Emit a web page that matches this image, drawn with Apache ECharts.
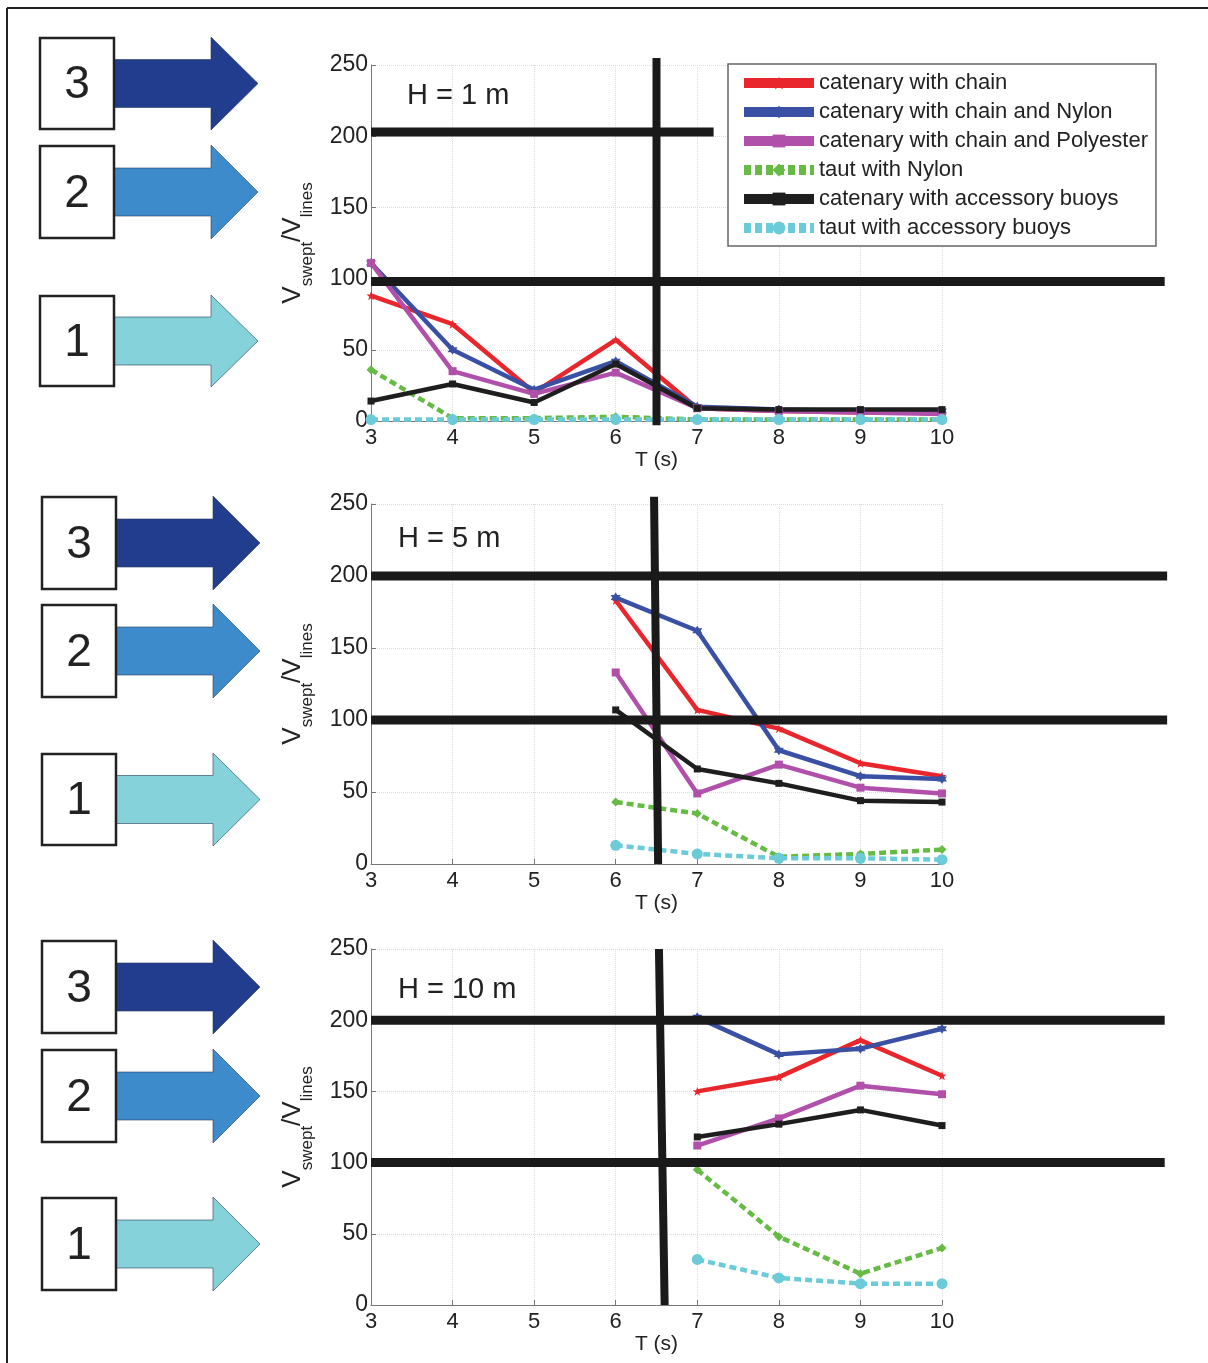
<!DOCTYPE html>
<html><head><meta charset="utf-8">
<script src="https://cdn.jsdelivr.net/npm/echarts@6/dist/echarts.min.js"></script>
<style>html,body{margin:0;padding:0;background:#fff}#c{width:1208px;height:1363px}</style>
</head><body><div id="c"></div>
<script>
// ---------- DATA ----------
const periodsAll = [3, 4, 5, 6, 7, 8, 9, 10];
const periodsH5 = [6, 7, 8, 9, 10];
const periodsH10 = [7, 8, 9, 10];
const seriesNames = ['catenary with chain', 'catenary with chain and Nylon', 'catenary with chain and Polyester', 'taut with Nylon', 'catenary with accessory buoys', 'taut with accessory buoys'];
const panelTitles = ['H = 1 m', 'H = 5 m', 'H = 10 m'];
const yTicks = [0, 50, 100, 150, 200, 250];
const xTicks = [3, 4, 5, 6, 7, 8, 9, 10];

// H = 1 m
const h1Chain = [88, 68, 20, 57, 9, 7, 6, 6];
const h1Nylon = [111, 50, 22, 42, 10, 8, 7, 7];
const h1Poly = [111, 35, 19, 34, 9, 7, 6, 5];
const h1Taut = [36, 2, 2, 3, 1, 1, 1, 1];
const h1Buoy = [14, 26, 13, 40, 9, 8, 8, 8];
const h1TautBuoy = [1, 1, 1, 1, 1, 1, 1, 1];
// H = 5 m
const h5Chain = [183, 107, 94, 70, 61];
const h5Nylon = [185, 162, 79, 61, 59];
const h5Poly = [133, 49, 69, 53, 49];
const h5Taut = [43, 35, 5, 7, 10];
const h5Buoy = [107, 66, 56, 44, 43];
const h5TautBuoy = [13, 7, 4, 4, 3];
// H = 10 m
const h10Chain = [150, 160, 186, 161];
const h10Nylon = [202, 176, 180, 194];
const h10Poly = [112, 131, 154, 148];
const h10Taut = [95, 48, 22, 40];
const h10Buoy = [118, 127, 137, 126];
const h10TautBuoy = [32, 19, 15, 15];

// Overlay threshold lines (data units): [xStart, xEnd, y]
const h1Thresholds = [[3, 7.2, 203], [3, 12.73, 98]];
const h5Thresholds = [[3, 12.76, 200], [3, 12.76, 100]];
const h10Thresholds = [[3, 12.73, 200], [3, 12.73, 100]];
// Overlay vertical separators: [[x1, y1], [x2, y2]]
const h1Separator = [[6.5, 255], [6.5, -3]];
const h5Separator = [[6.47, 255], [6.52, 0]];
const h10Separator = [[6.53, 250], [6.60, 0]];

// ---------- STYLE ----------
const colors = ['#e8262b', '#3950a4', '#b150aa', '#66bb44', '#1e1e1e', '#6ccbd9'];
const STAR5 = 'path://M0,-10L2.4,-3.2L9.5,-3.1L3.8,1.2L5.9,8.1L0,4L-5.9,8.1L-3.8,1.2L-9.5,-3.1L-2.4,-3.2Z';
const STAR6 = 'path://M0,-10L2.9,-5L8.7,-5L5.8,0L8.7,5L2.9,5L0,10L-2.9,5L-8.7,5L-5.8,0L-8.7,-5L-2.9,-5Z';
const symbols = [STAR5, STAR6, 'rect', 'diamond', 'rect', 'circle'];
const symbolSizes = [9, 10, 8, 9, 7, 11];
const dashed = [false, false, false, true, false, true];
const FONT = 'Liberation Sans, Arial, sans-serif';

const grids = [
  {left: 371, width: 571, top: 65, height: 356},
  {left: 371, width: 571, top: 504, height: 360},
  {left: 371, width: 571, top: 949, height: 356}
];

const panelData = [
  {x: periodsAll, ys: [h1Chain, h1Nylon, h1Poly, h1Taut, h1Buoy, h1TautBuoy], th: h1Thresholds, sep: h1Separator},
  {x: periodsH5, ys: [h5Chain, h5Nylon, h5Poly, h5Taut, h5Buoy, h5TautBuoy], th: h5Thresholds, sep: h5Separator},
  {x: periodsH10, ys: [h10Chain, h10Nylon, h10Poly, h10Taut, h10Buoy, h10TautBuoy], th: h10Thresholds, sep: h10Separator}
];

const xAxes = [], yAxes = [], series = [], titles = [];
panelData.forEach((p, gi) => {
  xAxes.push({
    type: 'value', gridIndex: gi, min: xTicks[0], max: xTicks[xTicks.length - 1], interval: 1,
    name: 'T (s)', nameLocation: 'middle', nameGap: 26,
    nameTextStyle: {fontFamily: FONT, fontSize: 21, color: '#222'},
    axisLine: {lineStyle: {color: '#777', width: 1}},
    axisTick: {inside: true, length: 5, lineStyle: {color: '#777'}},
    axisLabel: {fontFamily: FONT, fontSize: 22, color: '#222', margin: 6},
    splitLine: {show: true, lineStyle: {color: '#dcdcdc', type: 'dotted', width: 1}}
  });
  yAxes.push({
    type: 'value', gridIndex: gi, min: yTicks[0], max: yTicks[yTicks.length - 1], interval: 50,
    name: '{v|V}{s|swept}{v|/V}{s|lines}', nameLocation: 'middle', nameGap: 55, nameRotate: 90,
    nameTextStyle: {
      color: '#222',
      rich: {
        v: {fontFamily: FONT, fontSize: 26, color: '#222', lineHeight: 36, verticalAlign: 'top'},
        s: {fontFamily: FONT, fontSize: 17, color: '#222', lineHeight: 36, verticalAlign: 'bottom'}
      }
    },
    axisLine: {show: true, lineStyle: {color: '#777', width: 1}},
    axisTick: {show: true, inside: true, length: 5, lineStyle: {color: '#777'}},
    axisLabel: {fontFamily: FONT, fontSize: 23, color: '#222', margin: 3},
    splitLine: {show: true, lineStyle: {color: '#dcdcdc', type: 'dotted', width: 1}}
  });
  p.ys.forEach((vals, si) => {
    series.push({
      name: seriesNames[si], type: 'line', xAxisIndex: gi, yAxisIndex: gi,
      data: p.x.map((t, k) => [t, vals[k]]),
      symbol: symbols[si], symbolSize: symbolSizes[si],
      itemStyle: {color: colors[si]},
      lineStyle: {color: colors[si], width: 4.5, type: dashed[si] ? [7, 4] : 'solid'},
      z: 3, animation: false
    });
  });
});

titles.push({text: panelTitles[0], left: 402, top: 76, textStyle: {fontFamily: FONT, fontSize: 29, fontWeight: 'normal', color: '#222'}});
titles.push({text: panelTitles[1], left: 393, top: 519, textStyle: {fontFamily: FONT, fontSize: 29, fontWeight: 'normal', color: '#222'}});
titles.push({text: panelTitles[2], left: 393, top: 970, textStyle: {fontFamily: FONT, fontSize: 29, fontWeight: 'normal', color: '#222'}});

// ---------- Left-hand level boxes with arrows (decoration) ----------
const arrowColors = {3: '#223c8e', 2: '#3e8bcb', 1: '#86d2da'};
const levelBoxes = [
  // [boxLeft, boxTop, boxBottom, label]
  [40, 38, 129, 3], [40, 146, 238, 2], [40, 296, 386, 1],
  [42, 497, 589, 3], [42, 605, 697, 2], [42, 754, 845, 1],
  [42, 941, 1033, 3], [42, 1050, 1142, 2], [42, 1198, 1290, 1]
];
const graphics = [];
graphics.push({type: 'line', shape: {x1: 7, y1: 8, x2: 1208, y2: 8}, style: {stroke: '#222', lineWidth: 2}, z: 100});
graphics.push({type: 'line', shape: {x1: 7, y1: 8, x2: 7, y2: 1363}, style: {stroke: '#222', lineWidth: 2}, z: 100});
levelBoxes.forEach(([bx, by, bb, lab]) => {
  const bw = 74, cy = (by + bb) / 2, half = (bb - by) / 2 + 1, sh = 24;
  const x0 = bx + bw, xh = bx + bw + 97, xt = bx + 218;
  graphics.push({
    type: 'polygon', z: 100,
    shape: {points: [[x0, cy - sh], [xh, cy - sh], [xh, cy - half], [xt, cy], [xh, cy + half], [xh, cy + sh], [x0, cy + sh]]},
    style: {fill: arrowColors[lab], stroke: 'rgba(40,60,90,0.6)', lineWidth: 1}
  });
  graphics.push({type: 'rect', z: 101, shape: {x: bx, y: by, width: bw, height: bb - by}, style: {fill: '#fff', stroke: '#222', lineWidth: 2.5}});
  graphics.push({type: 'text', z: 102, style: {text: String(lab), x: bx + bw / 2, y: cy + 2, align: 'center', verticalAlign: 'middle', font: '46px ' + FONT, fill: '#222'}});
});

const option = {
  backgroundColor: '#fff',
  animation: false,
  title: titles,
  grid: grids,
  xAxis: xAxes,
  yAxis: yAxes,
  legend: {
    data: seriesNames, orient: 'vertical', left: 728, top: 64,
    padding: [8, 8, 7, 11], itemGap: 7, itemWidth: 70, itemHeight: 16,
    backgroundColor: '#fff', borderColor: '#666', borderWidth: 1.5, borderRadius: 0,
    textStyle: {fontFamily: FONT, fontSize: 22, color: '#222', lineHeight: 20},
    lineStyle: {width: 10}, z: 20
  },
  series: series,
  graphic: graphics
};
const chart = echarts.init(document.getElementById('c'), null, {renderer: 'canvas'});
chart.setOption(option);

// Overlay thick black threshold / separator lines, positioned through the axes' scales
const overlay = [];
panelData.forEach((p, gi) => {
  p.th.forEach((h) => {
    const a = chart.convertToPixel({gridIndex: gi}, [h[0], h[2]]);
    const b = chart.convertToPixel({gridIndex: gi}, [h[1], h[2]]);
    overlay.push({type: 'line', z: 50, silent: true, shape: {x1: a[0], y1: a[1], x2: b[0], y2: b[1]}, style: {stroke: '#1a1a1a', lineWidth: 9}});
  });
  const c = chart.convertToPixel({gridIndex: gi}, p.sep[0]);
  const d = chart.convertToPixel({gridIndex: gi}, p.sep[1]);
  overlay.push({type: 'line', z: 50, silent: true, shape: {x1: c[0], y1: c[1], x2: d[0], y2: d[1]}, style: {stroke: '#1a1a1a', lineWidth: 8}});
});
chart.setOption({graphic: graphics.concat(overlay)});
</script></body></html>
